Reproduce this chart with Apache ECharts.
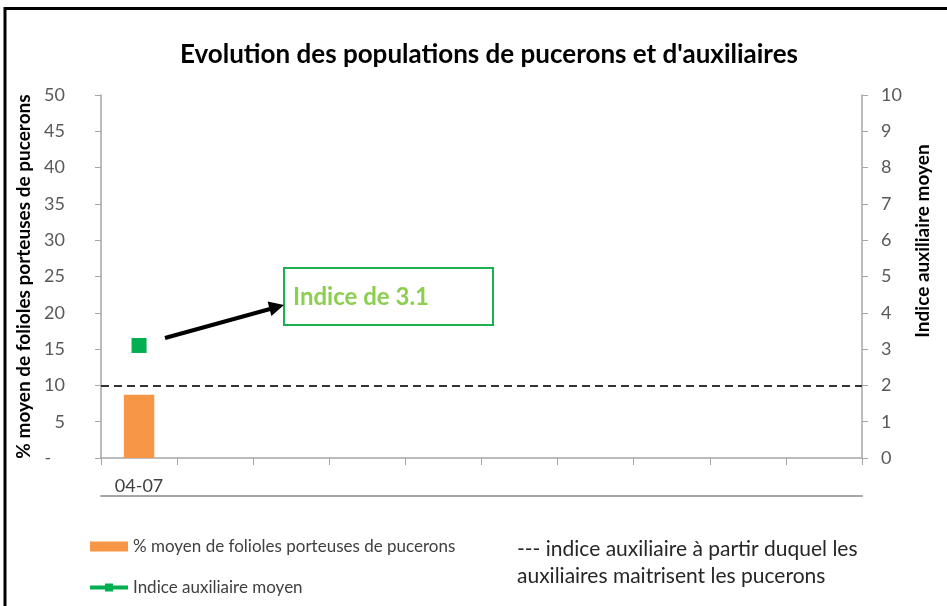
<!DOCTYPE html>
<html>
<head>
<meta charset="utf-8">
<script src="https://cdn.jsdelivr.net/npm/echarts@6/dist/echarts.min.js"></script>
<style>html,body{margin:0;padding:0;background:#fff}#c{width:947px;height:606px}</style>
</head>
<body>
<div id="c"></div>
<script>
// ---- data ----
const categories = ['04-07', '', '', '', '', '', '', '', '', ''];
const pucerons = [8.7, null, null, null, null, null, null, null, null, null];
const auxiliaires = [3.1, null, null, null, null, null, null, null, null, null];
const seuilPucerons = 10; // left-axis level of the threshold (index 2 on right axis)
const leftTicks = { min: 0, max: 50, interval: 5 };
const rightTicks = { min: 0, max: 10, interval: 1 };

const FONT = 'Lato, "Open Sans", sans-serif';
const AXIS_GREY = '#A6A6A6';

const chart = echarts.init(document.getElementById('c'), null, { renderer: 'canvas' });
chart.setOption({
  backgroundColor: '#fff',
  animation: false,
  textStyle: { fontFamily: FONT },
  title: {
    text: "Evolution des populations de pucerons et d'auxiliaires",
    left: 175, top: 37,
    textStyle: { fontFamily: FONT, fontSize: 26, fontWeight: 'bold', color: '#000' }
  },
  grid: { left: 101, right: 85, top: 95, bottom: 148, containLabel: false },
  legend: {
    orient: 'vertical', left: 88, top: 538, itemGap: 24, padding: 0,
    itemWidth: 38, itemHeight: 10,
    textStyle: { fontFamily: FONT, fontSize: 17, color: '#404040' },
    data: [
      { name: '% moyen de folioles porteuses de pucerons', icon: 'rect' },
      { name: 'Indice auxiliaire moyen', lineStyle: { width: 4, color: '#00B050' } }
    ]
  },
  xAxis: [{
    type: 'category', data: categories, position: 'bottom',
    axisLine: { show: true, lineStyle: { color: AXIS_GREY, width: 1.5 } },
    axisTick: { show: true, interval: 0, length: 7, lineStyle: { color: AXIS_GREY } },
    axisLabel: { interval: 0, margin: 19, fontSize: 18, color: '#404040', fontFamily: FONT },
    splitLine: { show: false }
  }, {
    type: 'category', data: categories, position: 'bottom', offset: 38,
    axisLine: { show: true, onZero: false, lineStyle: { color: AXIS_GREY, width: 2 } },
    axisTick: { show: false }, axisLabel: { show: false }, splitLine: { show: false }
  }],
  yAxis: [{
    type: 'value', position: 'left',
    min: leftTicks.min, max: leftTicks.max, interval: leftTicks.interval,
    name: '% moyen de folioles porteuses de pucerons',
    nameLocation: 'middle', nameGap: 64,
    nameTextStyle: { fontFamily: FONT, fontSize: 19, fontWeight: 'bold', color: '#000' },
    axisLine: { show: true, lineStyle: { color: AXIS_GREY, width: 1.5 } },
    axisTick: { show: true, length: 6, lineStyle: { color: AXIS_GREY } },
    axisLabel: { margin: 36, fontSize: 18, color: '#595959', fontFamily: FONT,
      formatter: v => v === 0 ? '-   ' : String(v) },
    splitLine: { show: false }
  }, {
    type: 'value', position: 'right',
    min: rightTicks.min, max: rightTicks.max, interval: rightTicks.interval,
    axisLine: { show: true, lineStyle: { color: AXIS_GREY, width: 1.5 } },
    axisTick: { show: true, length: 6, lineStyle: { color: AXIS_GREY } },
    axisLabel: { margin: 19, fontSize: 18, color: '#595959', fontFamily: FONT },
    splitLine: { show: false }
  }],
  series: [{
    name: '% moyen de folioles porteuses de pucerons',
    type: 'bar', data: pucerons, barWidth: '40%',
    itemStyle: { color: '#F79646' },
    markLine: {
      silent: true, symbol: ['none', 'none'],
      label: { show: false },
      lineStyle: { color: '#333', type: [8, 5], width: 2 },
      data: [{ yAxis: seuilPucerons }]
    }
  }, {
    name: 'Indice auxiliaire moyen',
    type: 'line', yAxisIndex: 1, data: auxiliaires,
    symbol: 'rect', symbolSize: 15,
    itemStyle: { color: '#00B050' },
    lineStyle: { color: '#00B050', width: 4 }
  }],
  graphic: [
    // outer frame (top and left edges)
    { type: 'line', shape: { x1: 5, y1: 8.5, x2: 947, y2: 8.5 }, style: { stroke: '#000', lineWidth: 3 } },
    { type: 'line', shape: { x1: 5, y1: 7, x2: 5, y2: 606 }, style: { stroke: '#000', lineWidth: 3 } },
    // right axis title
    { type: 'text', x: 923, y: 241, rotation: Math.PI / 2,
      style: { text: 'Indice auxiliaire moyen', fontFamily: FONT, fontSize: 19, fontWeight: 'bold',
        fill: '#000', align: 'center', verticalAlign: 'middle' } },
    // annotation box
    { type: 'rect', shape: { x: 284, y: 268, width: 209, height: 57 },
      style: { fill: '#fff', stroke: '#1DB04F', lineWidth: 2 } },
    { type: 'text', x: 293, y: 297,
      style: { text: 'Indice de 3.1', fontFamily: FONT, fontSize: 24, fontWeight: 'bold',
        fill: '#8CCF50', align: 'left', verticalAlign: 'middle' } },
    // arrow
    { type: 'line', shape: { x1: 165, y1: 338, x2: 270, y2: 309 }, style: { stroke: '#000', lineWidth: 4 } },
    { type: 'polygon', shape: { points: [[284, 305], [271.4, 316], [267.6, 301.5]] }, style: { fill: '#000' } },
    // threshold legend text
    { type: 'text', x: 517, y: 536,
      style: { text: '--- indice auxiliaire à partir duquel les\nauxiliaires maitrisent les pucerons',
        fontFamily: FONT, fontSize: 21, lineHeight: 27, fill: '#262626', align: 'left', verticalAlign: 'top' } }
  ]
});
</script>
</body>
</html>
